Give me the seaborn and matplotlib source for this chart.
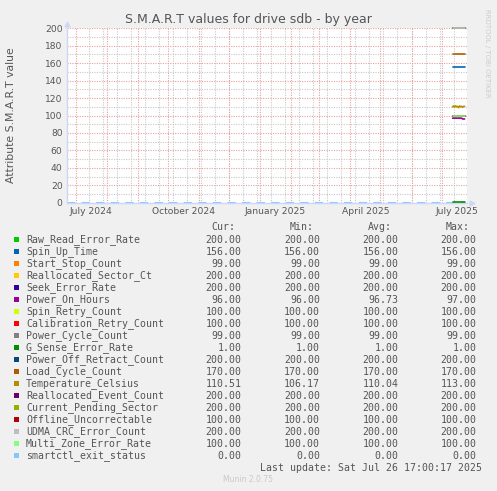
import matplotlib
matplotlib.use('Agg')
import matplotlib.pyplot as plt
from matplotlib.patches import Rectangle
import numpy as np
import pandas as pd
import seaborn as sns

W, H = 497, 491

# daily averages that exist for the drive (only the last couple of weeks)
recent_days = pd.date_range('2025-07-12', '2025-07-24', freq='D')
full_days = pd.date_range('2024-06-22', '2025-07-24', freq='D')

names = ['Raw_Read_Error_Rate', 'Spin_Up_Time', 'Start_Stop_Count', 'Reallocated_Sector_Ct',
         'Seek_Error_Rate', 'Power_On_Hours', 'Spin_Retry_Count', 'Calibration_Retry_Count',
         'Power_Cycle_Count', 'G_Sense_Error_Rate', 'Power_Off_Retract_Count', 'Load_Cycle_Count',
         'Temperature_Celsius', 'Reallocated_Event_Count', 'Current_Pending_Sector',
         'Offline_Uncorrectable', 'UDMA_CRC_Error_Count', 'Multi_Zone_Error_Rate',
         'smartctl_exit_status']
colors = ['#00CC00', '#0066B3', '#FF8000', '#FFCC00', '#330099', '#990099', '#CCFF00', '#FF0000',
          '#808080', '#008F00', '#00487D', '#B35A00', '#B38F00', '#6B006B', '#8FB300', '#B30000',
          '#BEBEBE', '#80FF80', '#80C9FF']

n = len(recent_days)
power_on_hours = [97, 97, 97, 97, 97, 97, 97, 97, 97, 97, 96, 96, 96]
temperature = [110, 111, 109.5, 111, 110, 110.5, 109, 111, 110, 110.5, 109.5, 110.5, 110.5]
series = {
    'Raw_Read_Error_Rate': [200] * n,
    'Spin_Up_Time': [156] * n,
    'Start_Stop_Count': [99] * n,
    'Reallocated_Sector_Ct': [200] * n,
    'Seek_Error_Rate': [200] * n,
    'Power_On_Hours': power_on_hours,
    'Spin_Retry_Count': [100] * n,
    'Calibration_Retry_Count': [100] * n,
    'Power_Cycle_Count': [99] * n,
    'G_Sense_Error_Rate': [1] * n,
    'Power_Off_Retract_Count': [200] * n,
    'Load_Cycle_Count': [170] * n,
    'Temperature_Celsius': temperature,
    'Reallocated_Event_Count': [200] * n,
    'Current_Pending_Sector': [200] * n,
    'Offline_Uncorrectable': [100] * n,
    'UDMA_CRC_Error_Count': [200] * n,
    'Multi_Zone_Error_Rate': [100] * n,
}
smartctl_exit_status = [0] * len(full_days)

cur = [200.00, 156.00, 99.00, 200.00, 200.00, 96.00, 100.00, 100.00, 99.00, 1.00,
       200.00, 170.00, 110.51, 200.00, 200.00, 100.00, 200.00, 100.00, 0.00]
mins = [200.00, 156.00, 99.00, 200.00, 200.00, 96.00, 100.00, 100.00, 99.00, 1.00,
        200.00, 170.00, 106.17, 200.00, 200.00, 100.00, 200.00, 100.00, 0.00]
avgs = [200.00, 156.00, 99.00, 200.00, 200.00, 96.73, 100.00, 100.00, 99.00, 1.00,
        200.00, 170.00, 110.04, 200.00, 200.00, 100.00, 200.00, 100.00, 0.00]
maxs = [200.00, 156.00, 99.00, 200.00, 200.00, 97.00, 100.00, 100.00, 99.00, 1.00,
        200.00, 170.00, 113.00, 200.00, 200.00, 100.00, 200.00, 100.00, 0.00]

y_ticks = list(range(0, 201, 20))
x_labels = ['July 2024', 'October 2024', 'January 2025', 'April 2025', 'July 2025']
x_label_pos = pd.to_datetime(['2024-07-16', '2024-10-16', '2025-01-16', '2025-04-16', '2025-07-16'])
month_lines = pd.date_range('2024-07-01', '2025-07-01', freq='MS')
minor_lines = pd.date_range('2024-07-14', '2025-07-26', freq='14D')

t_start = pd.Timestamp('2024-06-21 17:00')
t_end = pd.Timestamp('2025-07-26 17:00')

sns.set_style('white')
plt.rcParams['font.family'] = ['DejaVu Sans']
txt = '#555555'


def fx(x):
    return x / W


def fy(y):
    return 1 - y / H


fig = plt.figure(figsize=(W / 100, H / 100), dpi=100, facecolor='#F0F0F0')
ax = fig.add_axes([fx(66.7), fy(202.7), fx(467.3) - fx(66.7), fy(28.3) - fy(202.7)])
ax.set_facecolor('white')

# grid
for d in minor_lines:
    ax.axvline(d, color='#C8C8C8', lw=0.8, ls=(0, (1, 1.2)), zorder=0)
for d in month_lines:
    ax.axvline(d, color='#E8A0A0', lw=0.8, ls=(0, (1, 1.2)), zorder=0)
ax.set_yticks(y_ticks)
ax.grid(False)
for v in range(10, 200, 20):
    ax.axhline(v, color='#C8C8C8', lw=0.8, ls=(0, (1, 1.2)), zorder=0)
for v in y_ticks[1:]:
    ax.axhline(v, color='#E8A0A0', lw=0.8, ls=(0, (1, 1.2)), zorder=0)

rows = []
for name in names[:-1]:
    for d, v in zip(recent_days, series[name]):
        rows.append((d, v, name))
df = pd.DataFrame(rows, columns=['date', 'value', 'field'])
sns.lineplot(data=df, x='date', y='value', hue='field', hue_order=names[:-1],
             palette=colors[:-1], estimator=None, lw=1.2, legend=False, ax=ax, zorder=3)

df_exit = pd.DataFrame({'date': full_days, 'value': smartctl_exit_status})
sns.lineplot(data=df_exit, x='date', y='value', color=colors[-1], estimator=None,
             lw=1.5, ax=ax, zorder=2)
ax.lines[-1].set_linestyle((0, (4, 3)))
for ln in ax.lines[-len(names):]:
    ln.set_clip_on(False)

ax.set_xlim(t_start, t_end)
ax.set_ylim(0, 200)
ax.set_xticks(x_label_pos)
ax.set_xticklabels(x_labels)
ax.tick_params(axis='both', length=0, labelsize=6.6, colors=txt, pad=3)
ax.set_xlabel('')
ax.set_ylabel('')
for s in ['top', 'right']:
    ax.spines[s].set_visible(False)
for s in ['left', 'bottom']:
    ax.spines[s].set_color('#CFD6F8')
    ax.spines[s].set_linewidth(1)
ax.plot([0], [1.025], marker='^', ms=3.5, color='#CFD6F8', transform=ax.transAxes, clip_on=False)
ax.plot([1.012], [0], marker='>', ms=3.5, color='#CFD6F8', transform=ax.transAxes, clip_on=False)

fig.text(fx(248), fy(19.3), 'S.M.A.R.T values for drive sdb - by year', ha='center', va='center',
         fontsize=9, color=txt)
fig.text(fx(11), fy(115), 'Attribute S.M.A.R.T value', ha='center', va='center', rotation=90,
         fontsize=7.8, color=txt)
fig.text(fx(487), fy(53.5), 'RRDTOOL / TOBI OETIKER', ha='center', va='center', rotation=270,
         fontsize=5, color='#CCCCCC')

# legend table
mono = dict(family='DejaVu Sans Mono', fontsize=7.1, color=txt, va='center')
for hdr, xr in zip(['Cur:', 'Min:', 'Avg:', 'Max:'], [235.7, 313.3, 391.7, 470]):
    fig.text(fx(xr), fy(227.3), hdr, ha='right', **mono)
for i, name in enumerate(names):
    yc = 239.7 + 12 * i
    fig.add_artist(Rectangle((fx(14), fy(yc + 2.7)), fx(5.3), fy(0) - fy(5.3),
                             transform=fig.transFigure, color=colors[i], lw=0))
    fig.text(fx(26), fy(yc), name, ha='left', **mono)
    for vals, xr in zip([cur, mins, avgs, maxs], [241.7, 320, 398.3, 476.7]):
        fig.text(fx(xr), fy(yc), f'{vals[i]:.2f}', ha='right', **mono)
fig.text(fx(482.3), fy(467.7), 'Last update: Sat Jul 26 17:00:17 2025', ha='right', **mono)
fig.text(fx(247.7), fy(480), 'Munin 2.0.75', ha='center', va='center', fontsize=5.5, color='#C8C8C8')

fig.savefig('out.png', dpi=100, facecolor=fig.get_facecolor())
